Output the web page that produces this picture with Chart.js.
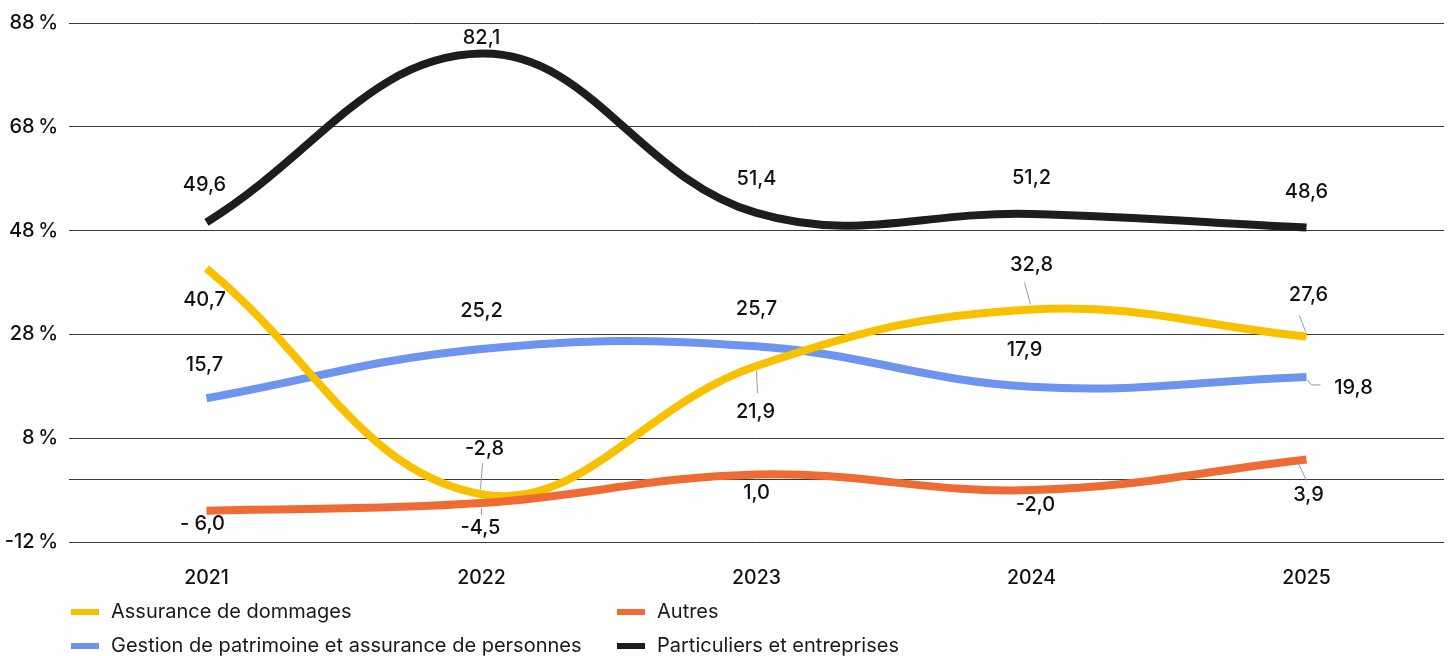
<!DOCTYPE html>
<html lang="fr">
<head>
<meta charset="utf-8">
<script src="https://cdn.jsdelivr.net/npm/chart.js@4.4.1/dist/chart.umd.min.js"></script>
<style>
  html, body { margin: 0; padding: 0; background: #ffffff; }
  #wrap { position: relative; width: 1452px; height: 656px; overflow: hidden; }
  #c { position: absolute; left: 0; top: 0; }
  .leg { position: absolute; font-family: Inter, "Noto Sans", sans-serif; font-size: 20px; font-weight: 400; color: #1a1a1a; white-space: nowrap; line-height: 22px; }
  .leg i { position: absolute; left: 0; top: 9px; width: 28px; height: 6px; }
  .leg span { position: absolute; left: 40px; top: 0; }
</style>
</head>
<body>
<div id="wrap">
  <canvas id="c" width="1452" height="656"></canvas>
  <div id="legend"></div>
</div>
<script>
// ---- data ----
const categories = ['2021', '2022', '2023', '2024', '2025'];
const dommages = [40.7, -2.8, 21.9, 32.8, 27.6];
const patrimoine = [15.7, 25.2, 25.7, 17.9, 19.8];
const autres = [-6.0, -4.5, 1.0, -2.0, 3.9];
const particuliers = [49.6, 82.1, 51.4, 51.2, 48.6];
const yTickValues = [-12, 0, 8, 28, 48, 68, 88];
const seriesNames = ['Assurance de dommages', 'Gestion de patrimoine et assurance de personnes', 'Autres', 'Particuliers et entreprises'];

// ---- styles ----
const colors = { dommages: '#F8C100', patrimoine: '#6D94EF', autres: '#EE6C33', particuliers: '#1D1D1B' };
const FONT = 'Inter, "Noto Sans", sans-serif';

// label placement relative to each point (pixels), with optional leader lines
const placeDommages = [
  { dx: -2, dy: 31 },
  { dx: 3, dy: -45, leader: [[1, -31], [-1, -5]] },
  { dx: -1, dy: 46, leader: [[0, 5], [1, 27]] },
  { dx: 0, dy: -45, leader: [[-7, -27], [-1, -5]] },
  { dx: 2, dy: -41, leader: [[-7, -21], [-1, -5]] }
];
const placePatrimoine = [
  { dx: -2, dy: -33 },
  { dx: 0, dy: -38 },
  { dx: 0, dy: -37 },
  { dx: -7, dy: -37 },
  { dx: 47, dy: 11, leader: [[1, 3], [5, 8], [14, 8]] }
];
const placeAutres = [
  { dx: -4, dy: 13, text: '- 6,0' },
  { dx: -1, dy: 25, leader: [[0, 5], [0, 12]] },
  { dx: 0, dy: 18 },
  { dx: 4, dy: 15 },
  { dx: 2, dy: 36, leader: [[-8, 4], [0, 21]] }
];
const placeParticuliers = [
  { dx: -2, dy: -37 },
  { dx: 0, dy: -16 },
  { dx: 0, dy: -34 },
  { dx: 0, dy: -36 },
  { dx: 0, dy: -36 }
];

function fmt(v) {
  return (v < 0 ? '-' : '') + Math.abs(v).toFixed(1).replace('.', ',');
}

const labelPlugin = {
  id: 'valueLabels',
  afterDatasetsDraw(chart) {
    const ctx = chart.ctx;
    ctx.save();
    chart.data.datasets.forEach((ds, di) => {
      const meta = chart.getDatasetMeta(di);
      const places = ds.labelPlaces;
      meta.data.forEach((pt, i) => {
        const p = places[i] || { dx: 0, dy: -30 };
        if (p.leader) {
          ctx.beginPath();
          ctx.strokeStyle = '#9a9a9a';
          ctx.lineWidth = 1;
          p.leader.forEach((q, k) => {
            const X = pt.x + q[0], Y = pt.y + q[1];
            if (k === 0) ctx.moveTo(X, Y); else ctx.lineTo(X, Y);
          });
          ctx.stroke();
        }
        ctx.fillStyle = '#111111';
        ctx.font = '500 20px ' + FONT;
        ctx.textAlign = 'center';
        ctx.textBaseline = 'middle';
        ctx.fillText(p.text || fmt(ds.data[i]), pt.x + p.dx, pt.y + p.dy);
      });
    });
    ctx.restore();
  }
};

function line(label, data, color, order, places) {
  return {
    label, data, borderColor: color, backgroundColor: color,
    borderWidth: 8, tension: 0.4, pointRadius: 0, pointHoverRadius: 0,
    borderCapStyle: 'butt', fill: false, order, labelPlaces: places
  };
}

new Chart(document.getElementById('c'), {
  type: 'line',
  data: {
    labels: categories,
    datasets: [
      line(seriesNames[0], dommages, colors.dommages, 1, placeDommages),
      line(seriesNames[1], patrimoine, colors.patrimoine, 2, placePatrimoine),
      line(seriesNames[2], autres, colors.autres, 0, placeAutres),
      line(seriesNames[3], particuliers, colors.particuliers, 3, placeParticuliers)
    ]
  },
  options: {
    responsive: false,
    animation: false,
    devicePixelRatio: 1,
    layout: { padding: { top: 22, right: 8, left: 0, bottom: 0 } },
    plugins: { legend: { display: false }, tooltip: { enabled: false } },
    scales: {
      x: {
        offset: true,
        grid: { display: false, drawTicks: false },
        border: { display: false },
        ticks: { color: '#111111', font: { family: FONT, size: 19.5, weight: '500' }, padding: 24 },
        afterFit(s) { s.height = 114; }
      },
      y: {
        min: -12, max: 88,
        afterBuildTicks(s) { s.ticks = yTickValues.map(v => ({ value: v })); },
        grid: { color: '#3a3a3a', lineWidth: 1, drawTicks: false },
        border: { display: false },
        ticks: {
          color: '#111111', font: { family: FONT, size: 20, weight: '500' }, padding: 11,
          callback: v => (v === 0 ? '' : v + '\u202F%')
        },
        afterFit(s) { s.width = 69; }
      }
    }
  },
  plugins: [labelPlugin]
});

// ---- legend (two columns, row-major) ----
const legendItems = [
  { name: seriesNames[0], color: colors.dommages, x: 71, y: 600 },
  { name: seriesNames[2], color: colors.autres, x: 617, y: 600 },
  { name: seriesNames[1], color: colors.patrimoine, x: 71, y: 634 },
  { name: seriesNames[3], color: colors.particuliers, x: 617, y: 634 }
];
const legEl = document.getElementById('legend');
legendItems.forEach(it => {
  const d = document.createElement('div');
  d.className = 'leg';
  d.style.left = it.x + 'px';
  d.style.top = it.y + 'px';
  d.innerHTML = '<i style="background:' + it.color + '"></i><span>' + it.name + '</span>';
  legEl.appendChild(d);
});
</script>
</body>
</html>
